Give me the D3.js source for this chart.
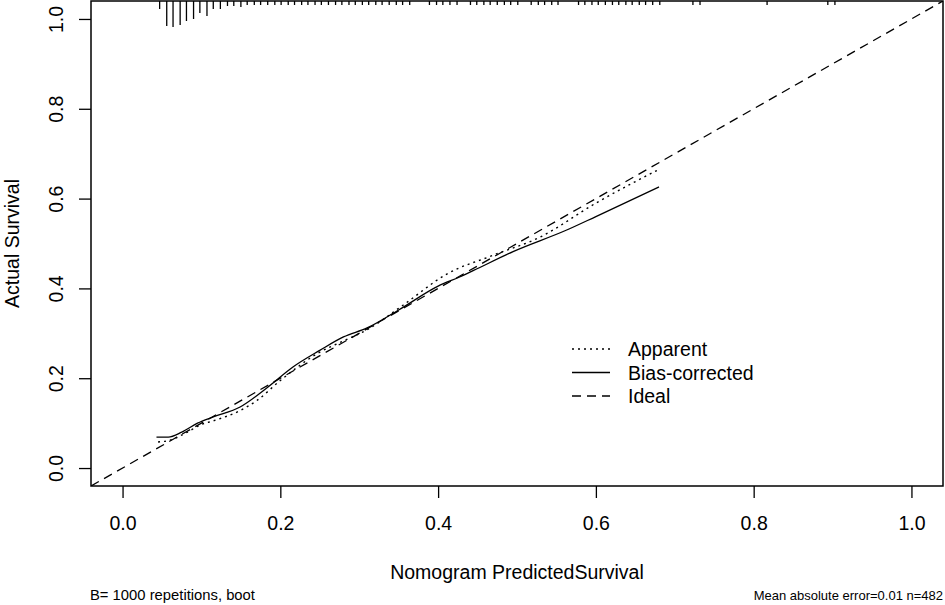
<!DOCTYPE html>
<html>
<head>
<meta charset="utf-8">
<script src="https://cdn.jsdelivr.net/npm/d3@7"></script>
<style>
  body { margin: 0; background: #fff; }
  svg { display: block; font-family: "Liberation Sans", Arial, sans-serif; }
</style>
</head>
<body>
<div id="chart"></div>
<script>
// calibration curves (predicted, observed)
const apparentX = [0.045, 0.060, 0.080, 0.100, 0.115, 0.149, 0.170, 0.200, 0.250, 0.280, 0.310, 0.355, 0.411, 0.470, 0.529, 0.600, 0.680];
const apparentY = [0.058, 0.062, 0.078, 0.097, 0.105, 0.128, 0.150, 0.195, 0.258, 0.283, 0.308, 0.362, 0.432, 0.474, 0.514, 0.590, 0.665];

const biasX = [0.043, 0.058, 0.075, 0.095, 0.115, 0.149, 0.184, 0.216, 0.250, 0.280, 0.310, 0.350, 0.400, 0.428, 0.445, 0.495, 0.563, 0.600, 0.680];
const biasY = [0.069, 0.069, 0.080, 0.100, 0.114, 0.136, 0.180, 0.225, 0.262, 0.292, 0.312, 0.352, 0.405, 0.426, 0.440, 0.482, 0.530, 0.560, 0.626];

// distribution of predictions (top rug)
const rugX = [0.047, 0.056, 0.064, 0.073, 0.081, 0.090, 0.098, 0.107, 0.115, 0.124, 0.133, 0.141, 0.150,
  0.158, 0.167, 0.175, 0.184, 0.193, 0.201, 0.210, 0.218, 0.227, 0.235, 0.244, 0.252, 0.261, 0.270,
  0.278, 0.287, 0.295, 0.304, 0.312, 0.321, 0.329, 0.338, 0.347, 0.355, 0.364,
  0.389, 0.398, 0.406, 0.415, 0.424,
  0.441, 0.449, 0.458, 0.466, 0.475, 0.484, 0.492, 0.501,
  0.518, 0.527, 0.535, 0.544, 0.552,
  0.578, 0.586, 0.595, 0.603, 0.612, 0.621, 0.629, 0.638, 0.646, 0.655, 0.663, 0.672, 0.681,
  0.723, 0.732, 0.817, 0.894, 0.903];
const rugN = [14, 48, 50, 46, 38, 34, 22, 28, 14, 14, 8, 8, 10,
  6, 6, 6, 6, 6, 6, 6, 6, 6, 6, 6, 6, 6, 6,
  6, 6, 6, 6, 6, 6, 6, 6, 6, 6, 6,
  6, 6, 6, 6, 6,
  6, 6, 6, 6, 6, 6, 6, 6,
  6, 6, 6, 6, 6,
  6, 6, 6, 6, 6, 6, 6, 6, 6, 6, 6, 6, 6,
  6, 6, 6, 6, 6];

const ticks = [0, 0.2, 0.4, 0.6, 0.8, 1.0];
const legendLabels = ["Apparent", "Bias-corrected", "Ideal"];
const legendDash = ["2,4", null, "9,6"];

const width = 945, height = 605;
const plotL = 91, plotT = 1, plotR = 943, plotB = 486;

const svg = d3.select("#chart").append("svg")
  .attr("width", width)
  .attr("height", height);

const x = d3.scaleLinear().domain([-0.04, 1.04]).range([plotL, plotR]);
const y = d3.scaleLinear().domain([-0.04, 1.04]).range([plotB, plotT]);
const hRug = d3.scaleLinear().domain([0, d3.max(rugN)]).range([0, 25]);

svg.append("clipPath").attr("id", "plotclip")
  .append("rect")
  .attr("x", plotL).attr("y", plotT)
  .attr("width", plotR - plotL).attr("height", plotB - plotT);

const plot = svg.append("g").attr("clip-path", "url(#plotclip)");

// ideal line
plot.append("line")
  .attr("x1", x(-0.04)).attr("y1", y(-0.04))
  .attr("x2", x(1.04)).attr("y2", y(1.04))
  .attr("stroke", "#000")
  .attr("stroke-width", 1.3)
  .attr("stroke-dasharray", "9,6");

const line = d3.line()
  .x(d => x(d[0]))
  .y(d => y(d[1]))
  .curve(d3.curveMonotoneX);

plot.append("path")
  .datum(d3.zip(apparentX, apparentY))
  .attr("d", line)
  .attr("fill", "none")
  .attr("stroke", "#000")
  .attr("stroke-width", 1.4)
  .attr("stroke-dasharray", "2,4");

plot.append("path")
  .datum(d3.zip(biasX, biasY))
  .attr("d", line)
  .attr("fill", "none")
  .attr("stroke", "#000")
  .attr("stroke-width", 1.3);

// rug of predictions hanging from the top
plot.selectAll(".rug")
  .data(d3.zip(rugX, rugN))
  .enter()
  .append("line")
  .attr("class", "rug")
  .attr("x1", d => x(d[0])).attr("x2", d => x(d[0]))
  .attr("y1", plotT)
  .attr("y2", d => plotT + 1 + hRug(d[1]))
  .attr("stroke", "#000")
  .attr("stroke-width", 1.3);

// box
svg.append("rect")
  .attr("x", plotL).attr("y", plotT)
  .attr("width", plotR - plotL).attr("height", plotB - plotT)
  .attr("fill", "none")
  .attr("stroke", "#000")
  .attr("stroke-width", 1.5);

// x axis
const xAxis = svg.append("g")
  .attr("transform", `translate(0,${plotB})`)
  .call(d3.axisBottom(x).tickValues(ticks).tickFormat(d3.format(".1f")).tickSize(12).tickPadding(18));
xAxis.select(".domain").remove();
xAxis.selectAll("line").attr("stroke-width", 1.3);
xAxis.selectAll("text").style("font-size", "19.5px").attr("font-family", null).attr("fill", "#000");

// y axis, labels turned like R's default
const yAxis = svg.append("g")
  .attr("transform", `translate(${plotL},0)`)
  .call(d3.axisLeft(y).tickValues(ticks).tickFormat(d3.format(".1f")).tickSize(12));
yAxis.select(".domain").remove();
yAxis.selectAll("line").attr("stroke-width", 1.3);
yAxis.selectAll("text")
  .attr("x", null).attr("dy", null)
  .attr("text-anchor", "middle")
  .attr("transform", "translate(-28,0) rotate(-90)")
  .attr("font-family", null)
  .style("font-size", "19.5px")
  .attr("fill", "#000");

// titles
svg.append("text")
  .attr("x", (plotL + plotR) / 2).attr("y", 579)
  .attr("text-anchor", "middle")
  .style("font-size", "19.5px")
  .text("Nomogram PredictedSurvival");

svg.append("text")
  .attr("transform", `translate(19,${(plotT + plotB) / 2}) rotate(-90)`)
  .attr("text-anchor", "middle")
  .style("font-size", "19.5px")
  .text("Actual Survival");

svg.append("text")
  .attr("x", 90).attr("y", 600)
  .style("font-size", "14.8px")
  .text("B= 1000 repetitions, boot");

svg.append("text")
  .attr("x", 943).attr("y", 600)
  .attr("text-anchor", "end")
  .style("font-size", "13px")
  .text("Mean absolute error=0.01 n=482");

// legend
const legend = svg.selectAll(".legend")
  .data(legendLabels)
  .enter()
  .append("g")
  .attr("class", "legend")
  .attr("transform", (d, i) => `translate(572,${349 + i * 23.5})`);

legend.append("line")
  .attr("x1", 0).attr("x2", 38)
  .attr("stroke", "#000")
  .attr("stroke-width", 1.3)
  .attr("stroke-dasharray", (d, i) => legendDash[i]);

legend.append("text")
  .attr("x", 56).attr("y", 7)
  .style("font-size", "19.5px")
  .text(d => d);
</script>
</body>
</html>
